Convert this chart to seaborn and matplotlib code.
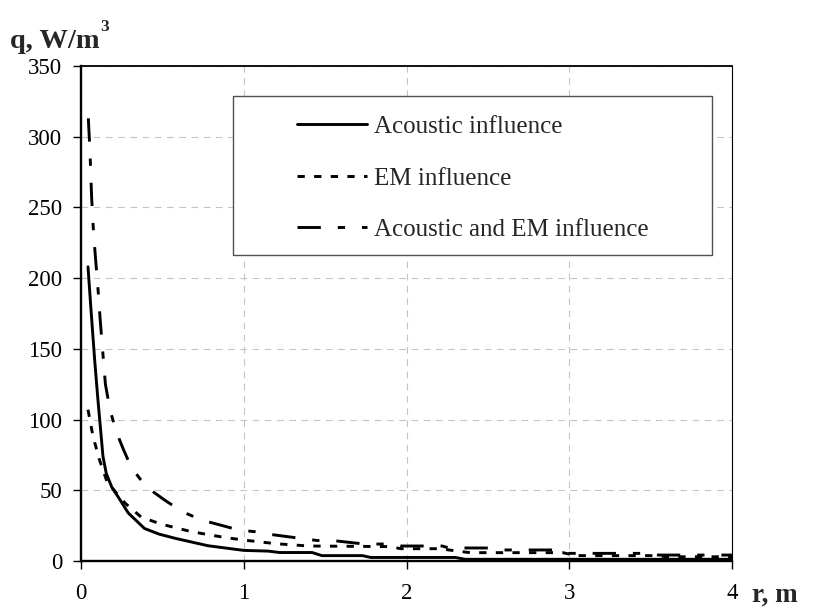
import numpy as np
import pandas as pd
import matplotlib
matplotlib.use("Agg")
import matplotlib.pyplot as plt
import seaborn as sns
from matplotlib.patches import Rectangle

# ---- data ----
r_acoustic = [0.043, 0.06, 0.084, 0.104, 0.135, 0.155, 0.19, 0.23, 0.29, 0.39, 0.48, 0.58,
              0.78, 0.9, 1.0, 1.15, 1.22, 1.42, 1.48, 1.73, 1.78, 2.3, 2.36, 4.0]
q_acoustic = [208, 180, 142, 114, 74, 62, 52, 45, 34, 23, 19, 16,
              10.8, 9, 7.5, 7, 6, 6, 3.8, 3.8, 2.5, 2.5, 1.2, 1.2]

r_em = [0.043, 0.074, 0.115, 0.16, 0.27, 0.37, 0.495, 0.68, 0.88, 1.0, 1.2, 1.4,
        1.88, 1.97, 2.2, 2.39, 2.96, 3.04, 3.53, 3.6, 4.0]
q_em = [107, 88, 71, 56, 41, 31, 26, 20.7, 16.7, 14.8, 12.2, 10.6,
        10.2, 8.7, 8.7, 5.9, 5.9, 3.8, 3.8, 3.0, 3.0]

r_both = [0.045, 0.055, 0.065, 0.077, 0.092, 0.106, 0.117, 0.137, 0.15, 0.178, 0.215, 0.26,
          0.31, 0.40, 0.515, 0.62, 0.74, 0.87, 0.965, 1.07, 1.15, 1.45, 1.56, 1.74,
          1.93, 1.97, 2.22, 2.26, 2.51, 2.57, 2.90, 2.96, 3.49, 3.55, 4.0]
q_both = [313, 290, 258, 232, 210, 190, 172, 143, 125, 107, 92, 79,
          66, 52.5, 43, 35, 29, 25, 22, 20.7, 19, 14.5, 14.3, 12,
          12, 10.6, 10.6, 9.2, 9.2, 7.8, 7.8, 5.4, 5.4, 4.2, 4.2]

series_names = ["Acoustic influence", "EM influence", "Acoustic and EM influence"]
x_ticks = [0, 1, 2, 3, 4]
y_ticks = [0, 50, 100, 150, 200, 250, 300, 350]

df = pd.concat([
    pd.DataFrame({"r": r_acoustic, "q": q_acoustic, "series": series_names[0]}),
    pd.DataFrame({"r": r_em, "q": q_em, "series": series_names[1]}),
    pd.DataFrame({"r": r_both, "q": q_both, "series": series_names[2]}),
], ignore_index=True)

# ---- style ----
sns.set_theme(style="white")
plt.rcParams["font.family"] = ["Liberation Serif", "DejaVu Serif"]

fig = plt.figure(figsize=(8.14, 6.08), dpi=100)
W, H = 814, 608
ax = fig.add_axes([81 / W, 1 - 561 / H, 651 / W, 495 / H])

lw = 2.1
dashes = {
    series_names[0]: "",
    series_names[1]: (2.5, 3.2),
    series_names[2]: (8.0, 5.8, 2.5, 5.8),
}
sns.lineplot(data=df, x="r", y="q", hue="series", style="series",
             palette=["black"] * 3, dashes=dashes, sort=False, estimator=None,
             linewidth=lw, ax=ax, zorder=4)

ax.set_xlim(0, 4)
ax.set_ylim(0, 350)
ax.set_xticks(x_ticks)
ax.set_yticks(y_ticks)
ax.set_xticklabels([str(v) for v in x_ticks])
ax.set_yticklabels([str(v) for v in y_ticks])
ax.set_xlabel("")
ax.set_ylabel("")

ax.grid(True, color="#c4c4c4", linestyle=(0, (6, 5)), linewidth=0.8)
ax.set_axisbelow(True)

for side in ["left", "bottom"]:
    ax.spines[side].set_linewidth(1.7)
    ax.spines[side].set_color("black")
ax.spines["top"].set_linewidth(1.3)
ax.spines["top"].set_color("black")
ax.spines["right"].set_linewidth(0.8)
ax.spines["right"].set_color("black")

ax.tick_params(axis="both", which="major", direction="out", length=5.5, width=1.0,
               color="black", labelsize=16.5, labelcolor="black",
               left=True, bottom=True)
ax.tick_params(axis="x", pad=10)
ax.tick_params(axis="y", pad=8)

# legend box
ax.add_patch(Rectangle((0.2335, 0.618), 0.7358, 0.3212, transform=ax.transAxes,
                       facecolor="white", edgecolor="#505050", linewidth=1.0, zorder=3))
handles, labels = ax.get_legend_handles_labels()
leg = ax.legend(handles, labels, loc="center left", bbox_to_anchor=(0.3318, 0.7728),
                frameon=False, fontsize=18, borderpad=0, borderaxespad=0,
                handlelength=2.8, handletextpad=0.28, labelspacing=1.16)
leg.set_zorder(5)

# axis titles
tq = fig.text(10 / W, 1 - 48 / H, "q, W/m", fontsize=20.5, fontweight="bold",
              ha="left", va="baseline")
fig.canvas.draw()
bb = tq.get_window_extent(renderer=fig.canvas.get_renderer())
fig.text((bb.x1 + 0.5) / W, 1 - 31 / H, "3", fontsize=12.5, fontweight="bold",
         ha="left", va="baseline")
fig.text(752 / W, 1 - 602 / H, "r, m", fontsize=19.5, fontweight="bold", ha="left", va="baseline")

fig.savefig("out.png", dpi=100)
